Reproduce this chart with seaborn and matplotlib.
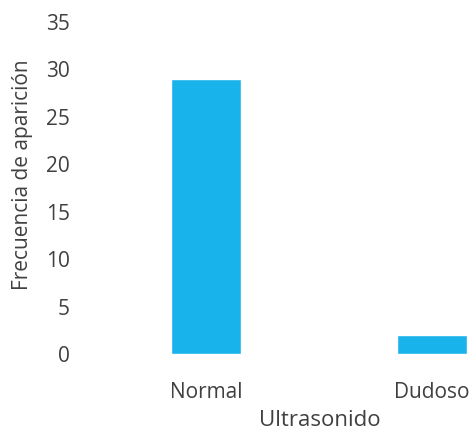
import matplotlib
matplotlib.use("Agg")
import matplotlib.pyplot as plt
import seaborn as sns
import pandas as pd

categories = ["Normal", "Dudoso"]
frecuencias = [29, 2]
yticks = [0, 5, 10, 15, 20, 25, 30, 35]

sns.set_style("white")
plt.rcParams["font.family"] = ["Open Sans", "DejaVu Sans"]

df = pd.DataFrame({"Ultrasonido": categories, "Frecuencia": frecuencias})

fig = plt.figure(figsize=(4.73, 4.36), dpi=100)
ax = fig.add_axes([85 / 473, 1 - 354 / 436, 388 / 473, 332 / 436])

sns.barplot(data=df, x="Ultrasonido", y="Frecuencia", order=categories,
            color="#19B3EC", saturation=1, width=0.31, ax=ax)

ax.set_xlim(-0.535, 1.181)
ax.set_ylim(0, 35)
ax.set_yticks(yticks)
for s in ax.spines.values():
    s.set_visible(False)
ax.tick_params(axis="both", length=0, labelsize=15, colors="#404040")
ax.tick_params(axis="y", pad=11)
ax.tick_params(axis="x", pad=20)

ax.set_xlabel("Ultrasonido", fontsize=16, color="#404040")
ax.set_ylabel("Frecuencia de aparición", fontsize=15, color="#404040")
ax.xaxis.set_label_coords(0.606, -0.169)
ax.yaxis.set_label_coords(-0.134, 0.539)

fig.savefig("out.png", dpi=100)
